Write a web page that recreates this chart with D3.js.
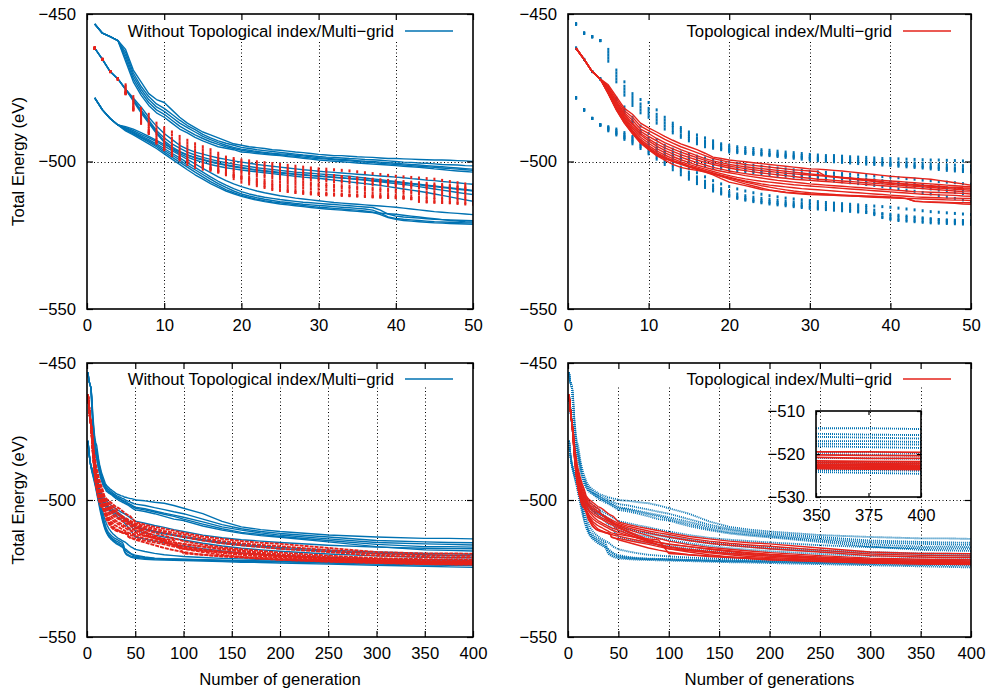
<!DOCTYPE html>
<html>
<head>
<meta charset="utf-8">
<script src="https://cdn.jsdelivr.net/npm/d3@7"></script>
<style>
  body { margin: 0; background: #fff; }
  svg { display: block; }
  text { font-family: "Liberation Sans", Arial, Helvetica, sans-serif; font-size: 16.7px; fill: #000; }
</style>
</head>
<body>
<svg id="chart" width="987" height="691"></svg>
<script>
// Generations at which the best total energy (eV) of each run is recorded.
const earlyGenerations = [1,2,3,4,5,6,7,8,9,10,11,12,13,14,15,16,17,18,19,20,
  21,22,23,24,25,26,27,28,29,30,31,32,33,34,35,36,37,38,39,40,
  41,42,43,44,45,46,47,48,49,50];
const lateGenerations = [60,70,80,90,100,120,140,160,180,200,250,300,350,375,400];

// Runs without topological index / multi-grid (three starting structures).
const blueA1 = [-453.4,-456.5,-457.7,-459.0,-462.0,-469.0,-473.0,-477.0,-479.0,-480.0,
  -482.5,-485.0,-487.0,-488.5,-490.0,-491.0,-492.0,-493.0,-494.0,-494.5,
  -495.0,-495.3,-495.6,-496.0,-496.2,-496.5,-496.8,-497.0,-497.3,-497.6,
  -497.8,-498.0,-498.0,-498.2,-498.4,-498.5,-498.6,-498.8,-499.0,-499.0,
  -499.1,-499.2,-499.3,-499.4,-499.5,-499.5,-499.6,-499.7,-499.8,-500.0,
  -500.3,-500.8,-501.2,-502.0,-503.0,-505.0,-507.8,-509.8,-510.8,-511.5,-512.8,-513.5,-514.0,-514.0,-514.2];
const blueA2 = [-453.4,-456.5,-457.7,-459.0,-463.0,-470.0,-474.5,-478.0,-480.5,-482.0,
  -484.0,-486.0,-487.8,-489.2,-490.8,-492.0,-493.0,-493.8,-494.5,-495.2,
  -495.6,-496.0,-496.3,-496.6,-496.9,-497.2,-497.5,-497.8,-498.0,-498.3,
  -498.5,-498.6,-498.8,-499.0,-499.1,-499.3,-499.4,-499.6,-499.8,-500.0,
  -500.2,-500.3,-500.5,-500.6,-500.8,-501.0,-501.1,-501.2,-501.4,-501.5,
  -502.0,-502.8,-503.5,-504.3,-505.0,-507.0,-509.0,-510.5,-511.5,-512.2,-513.5,-514.8,-515.3,-515.5,-515.6];
const blueA3 = [-453.4,-456.5,-457.7,-459.0,-464.0,-471.0,-475.5,-479.0,-481.5,-483.0,
  -485.0,-487.0,-488.5,-490.0,-491.5,-492.6,-493.6,-494.5,-495.2,-495.8,
  -496.2,-496.6,-496.9,-497.2,-497.4,-497.6,-497.9,-498.1,-498.4,-498.7,
  -498.9,-499.1,-499.3,-499.5,-499.7,-499.9,-500.0,-500.2,-500.4,-500.6,
  -500.8,-501.0,-501.2,-501.4,-501.6,-501.8,-502.0,-502.2,-502.4,-502.6,
  -503.2,-504.0,-504.8,-505.5,-506.3,-508.0,-509.8,-511.0,-512.0,-512.8,-514.2,-515.5,-516.0,-516.2,-516.4];
const blueA4 = [-453.4,-456.5,-457.7,-459.0,-465.0,-472.0,-476.5,-480.0,-482.5,-484.0,
  -486.0,-488.0,-489.5,-491.0,-492.2,-493.3,-494.2,-495.0,-495.6,-496.2,
  -496.6,-496.9,-497.2,-497.5,-497.7,-498.0,-498.2,-498.5,-498.8,-499.0,
  -499.2,-499.4,-499.6,-499.8,-500.0,-500.2,-500.4,-500.6,-500.8,-501.0,
  -501.2,-501.4,-501.6,-501.8,-502.0,-502.2,-502.4,-502.6,-502.8,-503.0,
  -503.6,-504.4,-505.2,-506.0,-507.0,-508.8,-510.5,-511.8,-512.6,-513.3,-514.8,-516.2,-517.0,-517.0,-517.2];
const blueA5 = [-453.4,-456.5,-457.7,-459.0,-466.0,-473.0,-477.5,-481.0,-483.5,-485.0,
  -487.0,-489.0,-490.3,-491.8,-493.0,-494.0,-495.0,-495.5,-496.0,-496.8,
  -497.0,-497.3,-497.6,-497.8,-498.0,-498.3,-498.6,-498.9,-499.2,-499.5,
  -499.7,-499.9,-500.1,-500.3,-500.5,-500.7,-500.9,-501.0,-501.2,-501.4,
  -501.6,-501.8,-502.0,-502.2,-502.5,-502.7,-503.0,-503.2,-503.4,-503.6,
  -504.2,-505.0,-506.0,-507.0,-507.5,-509.5,-511.0,-512.2,-513.0,-513.6,-515.3,-517.0,-518.2,-518.4,-518.6];
const blueB1 = [-461.6,-465.4,-469.5,-472.0,-475.5,-478.5,-481.5,-485.0,-488.0,-490.5,
  -492.5,-494.5,-495.8,-496.8,-497.5,-498.2,-498.8,-499.3,-499.8,-500.2,
  -500.6,-501.0,-501.3,-501.6,-501.9,-502.2,-502.5,-502.8,-503.0,-503.3,
  -503.5,-503.7,-503.9,-504.1,-504.3,-504.5,-504.7,-504.9,-505.1,-505.3,
  -505.5,-505.8,-506.0,-506.3,-506.5,-506.8,-507.0,-507.2,-507.5,-507.7,
  -508.5,-509.3,-510.0,-510.8,-511.5,-512.8,-513.8,-514.5,-515.0,-515.5,-516.5,-517.2,-517.6,-517.7,-517.8];
const blueB2 = [-461.6,-465.4,-469.5,-472.0,-475.5,-479.0,-482.5,-486.0,-489.5,-492.0,
  -494.0,-495.5,-496.8,-497.8,-498.6,-499.3,-499.9,-500.4,-500.9,-501.3,
  -501.7,-502.1,-502.4,-502.7,-503.0,-503.3,-503.6,-503.8,-504.0,-504.2,
  -504.4,-504.6,-504.8,-505.0,-505.3,-505.6,-505.9,-506.2,-506.5,-506.8,
  -507.1,-507.4,-507.7,-508.0,-508.3,-508.6,-508.9,-509.2,-509.5,-509.8,
  -510.6,-511.4,-512.0,-512.7,-513.3,-514.5,-515.5,-516.2,-516.8,-517.3,-518.3,-519.0,-519.5,-519.6,-519.8];
const blueB3 = [-461.6,-465.4,-469.5,-472.0,-475.5,-479.0,-483.0,-486.5,-490.0,-493.0,
  -495.0,-496.6,-497.8,-498.8,-499.5,-500.2,-500.8,-501.3,-501.8,-502.2,
  -502.6,-503.0,-503.3,-503.6,-503.9,-504.1,-504.3,-504.5,-504.7,-504.9,
  -505.1,-505.3,-505.5,-505.8,-506.0,-506.3,-506.6,-506.9,-507.2,-507.5,
  -507.8,-508.1,-508.5,-508.9,-509.3,-509.7,-510.1,-510.5,-510.9,-511.2,
  -512.0,-512.8,-513.5,-514.0,-514.6,-515.8,-516.8,-517.6,-518.2,-518.7,-519.7,-520.4,-520.9,-521.0,-521.1];
const blueB4 = [-461.6,-465.4,-469.5,-472.0,-475.5,-479.5,-483.5,-487.0,-490.5,-493.5,
  -495.8,-497.3,-498.5,-499.5,-500.3,-501.0,-501.6,-502.1,-502.5,-502.9,
  -503.2,-503.5,-503.8,-504.1,-504.4,-504.7,-505.0,-505.3,-505.5,-505.7,
  -506.0,-506.3,-506.6,-506.9,-507.2,-507.5,-507.8,-508.1,-508.5,-508.9,
  -509.3,-509.7,-510.1,-510.5,-511.0,-511.5,-512.0,-512.5,-513.0,-513.5,
  -514.3,-515.0,-515.7,-516.3,-516.8,-517.8,-518.6,-519.3,-519.8,-520.2,-521.0,-521.5,-521.8,-521.9,-522.0];
const blueC1 = [-478.4,-482.5,-485.4,-487.6,-488.2,-489.0,-490.2,-491.5,-492.8,-494.2,
  -495.5,-496.8,-497.8,-498.6,-499.3,-500.0,-500.6,-501.1,-501.6,-502.0,
  -502.4,-502.8,-503.1,-503.4,-503.7,-504.0,-504.3,-504.6,-504.8,-505.0,
  -505.2,-505.4,-505.6,-505.8,-506.0,-506.2,-506.4,-506.6,-506.8,-507.0,
  -507.3,-507.6,-507.9,-508.2,-508.5,-508.8,-509.1,-509.4,-509.7,-510.0,
  -510.8,-511.6,-512.3,-513.0,-513.6,-514.8,-515.8,-516.6,-517.2,-517.8,-518.8,-519.5,-520.0,-520.2,-520.4];
const blueC2 = [-478.4,-482.5,-485.4,-487.6,-488.5,-489.5,-490.8,-492.0,-493.3,-494.8,
  -496.3,-497.8,-499.3,-500.8,-502.3,-503.8,-505.2,-506.5,-507.6,-508.5,
  -509.3,-510.0,-510.6,-511.1,-511.6,-512.0,-512.4,-512.7,-513.0,-513.3,
  -513.6,-513.9,-514.1,-514.3,-514.5,-514.7,-514.9,-515.1,-515.3,-515.5,
  -515.8,-516.1,-516.4,-516.7,-517.0,-517.2,-517.4,-517.6,-517.8,-518.0,
  -518.8,-519.5,-520.0,-520.3,-520.6,-521.0,-521.3,-521.5,-521.7,-521.8,-522.0,-522.2,-522.3,-522.4,-522.5];
const blueC3 = [-478.4,-482.5,-485.4,-487.6,-488.7,-490.0,-491.3,-492.6,-494.0,-495.6,
  -497.2,-498.8,-500.4,-502.0,-503.6,-505.2,-506.7,-508.0,-509.2,-510.2,
  -511.0,-511.6,-512.1,-512.5,-512.9,-513.2,-513.5,-513.8,-514.0,-514.2,
  -514.4,-514.6,-514.8,-515.0,-515.2,-515.4,-515.6,-516.5,-517.8,-518.5,
  -518.8,-519.0,-519.2,-519.4,-519.6,-519.7,-519.8,-519.9,-520.0,-520.1,
  -520.8,-521.2,-521.4,-521.5,-521.6,-521.8,-522.0,-522.1,-522.2,-522.3,-522.6,-522.8,-523.0,-523.0,-523.1];
const blueC4 = [-478.4,-482.5,-485.4,-487.6,-489.0,-490.3,-491.7,-493.0,-494.5,-496.2,
  -497.8,-499.5,-501.2,-502.8,-504.4,-506.0,-507.5,-508.8,-510.0,-511.0,
  -511.7,-512.3,-512.8,-513.2,-513.6,-513.9,-514.2,-514.5,-514.7,-514.9,
  -515.1,-515.3,-515.5,-515.7,-515.9,-516.1,-516.5,-517.5,-518.8,-519.3,
  -519.6,-519.8,-520.0,-520.2,-520.4,-520.5,-520.6,-520.7,-520.8,-520.9,
  -521.3,-521.5,-521.6,-521.7,-521.8,-522.0,-522.2,-522.4,-522.5,-522.6,-523.0,-523.4,-523.7,-523.8,-523.9];
const blueC5 = [-478.4,-482.5,-485.4,-487.6,-489.3,-490.6,-492.0,-493.4,-495.0,-496.8,
  -498.5,-500.2,-501.9,-503.6,-505.2,-506.8,-508.2,-509.5,-510.6,-511.5,
  -512.2,-512.8,-513.3,-513.7,-514.0,-514.3,-514.6,-514.9,-515.2,-515.5,
  -515.7,-515.9,-516.1,-516.3,-516.5,-516.8,-517.2,-518.0,-519.0,-519.6,
  -520.0,-520.2,-520.4,-520.6,-520.8,-520.9,-521.0,-521.1,-521.2,-521.3,
  -521.6,-521.8,-521.9,-522.0,-522.1,-522.3,-522.5,-522.7,-522.8,-523.0,-523.4,-523.8,-524.2,-524.4,-524.6];
const blueC6 = [-478.4,-482.5,-485.4,-487.6,-489.6,-491.0,-492.5,-494.0,-495.6,-497.4,
  -499.2,-501.0,-502.8,-504.5,-506.0,-507.5,-508.8,-510.0,-511.0,-511.8,
  -512.5,-513.1,-513.6,-514.0,-514.4,-514.7,-515.0,-515.3,-515.6,-515.9,
  -516.1,-516.3,-516.5,-516.7,-516.9,-517.1,-517.3,-517.5,-517.7,-517.9,
  -518.2,-518.5,-518.8,-519.1,-519.4,-519.7,-520.0,-520.2,-520.4,-520.5,
  -521.0,-521.3,-521.5,-521.6,-521.7,-521.9,-522.1,-522.2,-522.3,-522.4,-522.8,-523.1,-523.3,-523.4,-523.5];

// Runs with topological index / multi-grid.
const redR1 = [-461.6,-465.4,-469.5,-472.0,-474.0,-478.0,-482.0,-484.0,-487.0,-488.6,
  -490.0,-491.5,-492.8,-494.0,-495.0,-496.0,-497.2,-498.5,-499.0,-499.5,
  -499.8,-500.1,-500.4,-500.7,-501.0,-501.3,-501.6,-501.9,-502.2,-502.5,
  -502.6,-502.8,-503.0,-503.2,-503.5,-503.8,-504.1,-504.4,-504.7,-505.0,
  -505.2,-505.4,-505.6,-505.8,-506.0,-506.4,-506.8,-507.2,-507.6,-508.0,
  -509.0,-509.8,-510.5,-511.2,-512.0,-513.3,-514.2,-515.0,-515.6,-516.0,-517.5,-519.0,-519.5,-519.5,-519.6];
const redR2 = [-461.6,-465.4,-469.5,-472.0,-474.5,-478.8,-482.8,-485.0,-488.0,-489.5,
  -491.0,-492.5,-493.8,-495.0,-496.0,-497.0,-498.0,-499.0,-499.6,-500.2,
  -500.6,-501.0,-501.3,-501.6,-501.9,-502.2,-502.5,-502.8,-503.0,-503.2,
  -503.4,-505.0,-505.2,-505.4,-505.6,-505.8,-506.0,-506.2,-506.4,-506.6,
  -506.8,-507.0,-507.2,-507.4,-507.6,-507.8,-508.0,-508.2,-508.4,-508.5,
  -509.6,-510.5,-511.3,-512.0,-512.6,-514.0,-515.0,-515.8,-516.4,-516.9,-518.3,-519.7,-520.2,-520.3,-520.4];
const redR3 = [-461.6,-465.4,-469.5,-472.0,-475.0,-479.5,-483.5,-486.0,-489.0,-490.5,
  -492.2,-493.6,-494.8,-496.0,-497.0,-498.0,-499.0,-499.8,-500.4,-501.0,
  -501.4,-501.8,-502.1,-502.4,-502.7,-503.0,-503.3,-503.6,-503.9,-504.2,
  -504.5,-504.8,-505.1,-505.4,-505.7,-506.0,-506.3,-506.6,-506.9,-507.2,
  -507.4,-507.6,-507.8,-508.0,-508.2,-508.4,-508.6,-508.7,-508.9,-509.0,
  -510.2,-511.2,-512.0,-512.8,-513.5,-514.8,-515.8,-516.5,-517.2,-517.8,-519.0,-520.3,-520.8,-521.0,-521.0];
const redR4 = [-461.6,-465.4,-469.5,-472.0,-475.5,-480.0,-484.0,-487.0,-489.8,-491.5,
  -493.0,-494.5,-495.7,-496.8,-497.8,-498.7,-499.6,-500.4,-501.0,-501.6,
  -502.0,-502.4,-502.8,-503.1,-503.4,-503.7,-504.0,-504.2,-504.4,-504.6,
  -504.8,-505.0,-505.3,-505.6,-505.9,-506.2,-506.5,-506.8,-507.1,-507.4,
  -507.6,-507.8,-508.0,-508.2,-508.4,-508.6,-508.8,-509.0,-509.2,-509.3,
  -510.8,-512.0,-513.0,-514.0,-515.0,-516.3,-517.3,-518.0,-518.6,-519.2,-520.3,-521.2,-521.6,-521.7,-521.8];
const redR5 = [-461.6,-465.4,-469.5,-472.0,-476.0,-480.5,-484.5,-487.5,-490.5,-492.3,
  -494.0,-495.4,-496.6,-497.7,-498.6,-499.5,-500.3,-501.0,-501.6,-502.2,
  -502.7,-503.1,-503.5,-503.9,-504.2,-504.5,-504.8,-505.1,-505.4,-505.7,
  -506.0,-506.2,-506.4,-506.6,-506.8,-507.0,-507.2,-507.4,-507.6,-507.8,
  -508.0,-508.2,-508.4,-508.6,-508.8,-509.0,-509.2,-509.4,-509.6,-509.8,
  -511.5,-513.0,-514.5,-515.5,-516.2,-517.0,-517.8,-518.5,-519.2,-519.8,-520.8,-521.6,-522.0,-522.1,-522.2];
const redR6 = [-461.6,-465.4,-469.5,-472.0,-476.3,-481.0,-485.0,-488.2,-491.0,-493.0,
  -494.8,-496.2,-497.4,-498.5,-499.5,-500.4,-501.2,-502.0,-502.6,-503.2,
  -503.7,-504.1,-504.5,-504.8,-505.1,-505.4,-505.7,-506.0,-506.2,-506.4,
  -506.6,-506.8,-507.0,-507.2,-507.4,-507.6,-507.8,-508.0,-508.2,-508.4,
  -508.6,-508.8,-509.0,-509.2,-509.4,-509.6,-509.8,-510.0,-510.2,-510.3,
  -511.8,-513.5,-515.0,-516.5,-517.8,-518.5,-519.0,-519.5,-520.0,-520.5,-521.3,-522.0,-522.4,-522.5,-522.6];
const redR7 = [-461.6,-465.4,-469.5,-472.0,-476.6,-481.5,-485.5,-488.8,-491.8,-493.8,
  -495.6,-497.0,-498.3,-499.4,-500.3,-501.2,-502.0,-502.7,-503.3,-503.8,
  -504.3,-504.8,-505.2,-505.6,-506.0,-506.4,-506.7,-507.0,-507.3,-507.6,
  -507.8,-508.0,-508.2,-508.4,-508.6,-508.8,-509.0,-509.2,-509.4,-509.6,
  -509.8,-510.0,-510.2,-510.3,-510.4,-510.5,-510.6,-510.7,-510.8,-511.0,
  -512.5,-514.0,-515.3,-516.3,-517.0,-518.0,-518.8,-519.5,-520.0,-520.5,-521.5,-522.3,-522.7,-522.8,-522.9];
const redR8 = [-461.6,-465.4,-469.5,-472.0,-476.8,-482.0,-486.0,-489.5,-492.5,-494.6,
  -496.4,-497.8,-499.0,-500.1,-501.0,-501.8,-502.6,-503.4,-504.1,-504.8,
  -505.4,-505.9,-506.3,-506.7,-507.0,-507.3,-507.6,-507.9,-508.1,-508.3,
  -508.5,-508.7,-508.9,-509.1,-509.3,-509.5,-509.7,-509.9,-510.1,-510.3,
  -510.5,-510.7,-510.9,-511.1,-511.2,-511.3,-511.4,-511.5,-511.7,-511.8,
  -513.0,-514.0,-514.8,-515.5,-516.0,-517.0,-518.0,-518.8,-519.5,-520.0,-521.2,-522.0,-522.5,-522.6,-522.7];
const redR9 = [-461.6,-465.4,-469.5,-472.0,-477.0,-482.3,-486.5,-490.0,-493.0,-495.2,
  -497.0,-498.4,-499.6,-500.6,-501.5,-502.3,-503.1,-503.9,-504.6,-505.3,
  -506.0,-506.6,-507.1,-507.6,-508.0,-508.3,-508.6,-508.9,-509.2,-509.4,
  -509.6,-509.8,-510.0,-510.2,-510.4,-510.6,-510.8,-511.0,-511.2,-511.4,
  -511.6,-511.8,-512.0,-512.1,-512.2,-512.3,-512.4,-512.4,-512.5,-512.5,
  -513.2,-513.8,-514.2,-514.6,-519.5,-520.0,-520.4,-520.8,-521.1,-521.4,-522.0,-522.6,-523.0,-523.1,-523.2];
const redR10 = [-461.6,-465.4,-469.5,-472.0,-477.0,-482.5,-487.0,-490.5,-493.5,-495.6,
  -497.4,-498.8,-500.0,-501.0,-501.9,-502.7,-503.5,-504.3,-505.0,-505.6,
  -506.3,-507.0,-507.6,-508.2,-508.7,-509.2,-509.6,-510.0,-510.3,-510.6,
  -510.8,-511.0,-511.2,-511.4,-511.6,-511.8,-512.0,-512.1,-512.2,-512.3,
  -512.4,-512.5,-512.6,-512.7,-512.8,-512.9,-513.0,-513.1,-513.1,-513.2,
  -514.0,-514.8,-515.6,-516.4,-517.2,-518.4,-519.3,-520.0,-520.6,-521.0,-521.8,-522.6,-523.1,-523.3,-523.4];
const redR11 = [-461.6,-465.4,-469.5,-472.0,-476.5,-481.8,-486.0,-489.8,-493.2,-495.8,
  -497.8,-499.0,-500.0,-500.8,-501.6,-502.4,-503.2,-504.0,-505.0,-506.0,
  -506.8,-507.6,-508.3,-509.0,-509.6,-510.1,-510.5,-510.8,-511.0,-511.2,
  -511.3,-511.4,-511.5,-511.6,-511.7,-511.8,-511.9,-512.0,-512.1,-512.2,
  -512.4,-512.6,-513.4,-513.6,-513.7,-513.8,-513.9,-514.0,-514.0,-514.0,
  -514.8,-515.5,-516.2,-517.0,-517.8,-519.0,-520.0,-520.8,-521.4,-521.8,-522.4,-522.9,-523.3,-523.4,-523.5];
const redR12 = [-461.6,-465.4,-469.5,-472.0,-477.0,-482.5,-487.0,-490.5,-493.8,-496.0,
  -498.0,-499.5,-501.0,-502.0,-502.6,-503.0,-503.6,-504.5,-505.8,-507.0,
  -507.6,-508.2,-508.8,-509.5,-509.8,-510.1,-510.4,-510.6,-510.8,-511.0,
  -511.1,-511.2,-511.3,-511.4,-511.5,-511.6,-511.7,-511.8,-511.9,-512.0,
  -512.2,-512.6,-513.5,-513.7,-513.8,-513.9,-514.0,-514.2,-514.4,-514.5,
  -515.5,-516.5,-517.5,-518.3,-519.0,-520.0,-520.6,-521.0,-521.4,-521.8,-522.5,-523.0,-523.4,-523.5,-523.6];

const legendWithout = "Without Topological index/Multi\u2212grid";
const legendWith = "Topological index/Multi\u2212grid";
const energyTicks = [-450, -500, -550];
const insetEnergyTicks = [-510, -520, -530];
const shortGenTicks = [0, 10, 20, 30, 40, 50];
const longGenTicks = [0, 50, 100, 150, 200, 250, 300, 350, 400];
const insetGenTicks = [350, 375, 400];

const BLUE = "#0072b2";
const RED = "#e5231b";

const generations = earlyGenerations.concat(lateGenerations);
const blueRuns = [blueA1, blueA2, blueA3, blueA4, blueA5, blueB1, blueB2, blueB3, blueB4,
  blueC1, blueC2, blueC3, blueC4, blueC5, blueC6];
const redRuns = [redR1, redR2, redR3, redR4, redR5, redR6, redR7, redR8, redR9, redR10, redR11, redR12];

function points(run, gMin, gMax) {
  return run.map((v, i) => ({ g: generations[i], v }))
            .filter(d => d.g >= gMin && d.g <= gMax);
}

const svg = d3.select("#chart");
const defs = svg.append("defs");

// Panel frames (pixel boxes) and how each data set is drawn in them.
const panels = [
  { x0: 87,  x1: 473, y0: 14,  y1: 309, xMax: 50,  ticks: shortGenTicks, blue: "line", red: "dots",
    legend: legendWithout, legendColor: BLUE, keyH: 25, yTitle: "Total Energy (eV)" },
  { x0: 568, x1: 971, y0: 14,  y1: 309, xMax: 50,  ticks: shortGenTicks, blue: "dots", red: "line",
    legend: legendWith, legendColor: RED, keyH: 25 },
  { x0: 87,  x1: 473, y0: 363, y1: 637, xMax: 400, ticks: longGenTicks, blue: "line", red: "dashed",
    legend: legendWithout, legendColor: BLUE, keyH: 22, yTitle: "Total Energy (eV)", xTitle: "Number of generation" },
  { x0: 568, x1: 971, y0: 363, y1: 637, xMax: 400, ticks: longGenTicks, blue: "dotted", red: "line",
    legend: legendWith, legendColor: RED, keyH: 22, xTitle: "Number of generations", inset: true }
];

function drawRuns(layer, runs, style, color, x, y, gMin, gMax) {
  const line = d3.line().x(d => x(d.g)).y(d => y(d.v));
  if (style === "dots") {
    runs.forEach(run => {
      layer.append("g").selectAll("rect")
        .data(points(run, gMin, gMax))
        .join("rect")
        .attr("x", d => x(d.g) - 1)
        .attr("y", d => y(d.v) - 1.5)
        .attr("width", 2)
        .attr("height", 3)
        .attr("fill", color);
    });
    return;
  }
  const widths = { line: 1.4, dashed: 1.9, dotted: 1.9 };
  const dashes = { line: null, dashed: "4,1", dotted: "1,1" };
  layer.append("g").selectAll("path")
    .data(runs.map(r => points(r, gMin, gMax)))
    .join("path")
    .attr("d", line)
    .attr("fill", "none")
    .attr("stroke", color)
    .attr("stroke-width", widths[style])
    .attr("stroke-dasharray", dashes[style])
    .attr("stroke-linejoin", "round");
}

function styleAxis(g) {
  g.select(".domain").remove();
  g.selectAll(".tick line").attr("stroke", "#000").attr("stroke-width", 1.2);
  g.selectAll(".tick text").attr("fill", "#000")
    .style("font-family", '"Liberation Sans", Arial, sans-serif').style("font-size", "16.7px");
}

function drawFrame(g, box, x, y, xTicks, yTicks, tick, pad) {
  const fmt = d3.format("d");
  g.append("g").attr("transform", `translate(0,${box.y1})`)
    .call(d3.axisBottom(x).tickValues(xTicks).tickSize(-tick).tickPadding(pad.x).tickFormat(fmt))
    .call(styleAxis);
  g.append("g").attr("transform", `translate(0,${box.y0})`)
    .call(d3.axisTop(x).tickValues(xTicks).tickSize(-tick).tickFormat(""))
    .call(styleAxis);
  g.append("g").attr("transform", `translate(${box.x0},0)`)
    .call(d3.axisLeft(y).tickValues(yTicks).tickSize(-tick).tickPadding(pad.y).tickFormat(fmt))
    .call(styleAxis);
  g.append("g").attr("transform", `translate(${box.x1},0)`)
    .call(d3.axisRight(y).tickValues(yTicks).tickSize(-tick).tickFormat(""))
    .call(styleAxis);
  g.append("rect")
    .attr("x", box.x0).attr("y", box.y0)
    .attr("width", box.x1 - box.x0).attr("height", box.y1 - box.y0)
    .attr("fill", "none").attr("stroke", "#000").attr("stroke-width", 1.6);
}

panels.forEach((p, idx) => {
  const x = d3.scaleLinear().domain([0, p.xMax]).range([p.x0, p.x1]);
  const y = d3.scaleLinear().domain([-550, -450]).range([p.y1, p.y0]);
  const g = svg.append("g");

  const clipId = "plot-clip-" + idx;
  defs.append("clipPath").attr("id", clipId).append("rect")
    .attr("x", p.x0).attr("y", p.y0).attr("width", p.x1 - p.x0).attr("height", p.y1 - p.y0);

  // dotted grid
  const grid = g.append("g").attr("stroke", "#000").attr("stroke-width", 1).attr("stroke-dasharray", "1,2.5");
  grid.selectAll("line.v").data(p.ticks.filter(t => t > 0 && t < p.xMax)).join("line")
    .attr("class", "v")
    .attr("x1", d => Math.round(x(d)) + 0.5).attr("x2", d => Math.round(x(d)) + 0.5)
    .attr("y1", p.y0).attr("y2", p.y1);
  grid.append("line")
    .attr("x1", p.x0).attr("x2", p.x1)
    .attr("y1", Math.round(y(-500)) + 0.5).attr("y2", Math.round(y(-500)) + 0.5);

  // opaque key area
  g.append("rect").attr("x", p.x0 + 1).attr("y", p.y0 + 1)
    .attr("width", p.x1 - p.x0 - 2).attr("height", p.keyH).attr("fill", "#fff");

  const plot = g.append("g").attr("clip-path", `url(#${clipId})`);
  drawRuns(plot, blueRuns, p.blue, BLUE, x, y, 0, p.xMax);
  drawRuns(plot, redRuns, p.red, RED, x, y, 0, p.xMax);

  drawFrame(g, p, x, y, p.ticks, energyTicks, 6, { x: 10.5, y: 11 });

  // key
  const ky = p.y0 + (p.keyH === 25 ? 17 : 16);
  g.append("text").attr("x", p.x1 - 79).attr("y", ky).attr("dy", "0.35em")
    .attr("text-anchor", "end").text(p.legend);
  g.append("line").attr("x1", p.x1 - 68).attr("x2", p.x1 - 20)
    .attr("y1", ky).attr("y2", ky).attr("stroke", p.legendColor).attr("stroke-width", 1.4);

  if (p.yTitle) {
    g.append("text")
      .attr("transform", `translate(18,${(p.y0 + p.y1) / 2}) rotate(-90)`)
      .attr("dy", "0.35em").attr("text-anchor", "middle").text(p.yTitle);
  }
  if (p.xTitle) {
    g.append("text").attr("x", (p.x0 + p.x1) / 2).attr("y", 679).attr("dy", "0.35em")
      .attr("text-anchor", "middle").text(p.xTitle);
  }

  if (p.inset) {
    const box = { x0: 816, x1: 921, y0: 411, y1: 497 };
    const ix = d3.scaleLinear().domain([350, 400]).range([box.x0, box.x1]);
    const iy = d3.scaleLinear().domain([-530, -510]).range([box.y1, box.y0]);
    const insetClip = "inset-clip";
    defs.append("clipPath").attr("id", insetClip).append("rect")
      .attr("x", box.x0).attr("y", box.y0).attr("width", box.x1 - box.x0).attr("height", box.y1 - box.y0);
    const ig = g.append("g");
    const il = ig.append("g").attr("clip-path", `url(#${insetClip})`);
    drawRuns(il, blueRuns, "dotted", BLUE, ix, iy, 350, 400);
    drawRuns(il, redRuns, "line", RED, ix, iy, 350, 400);
    il.selectAll("path").filter(function () { return d3.select(this).attr("stroke") === RED; })
      .attr("stroke-width", 1.8);
    drawFrame(ig, box, ix, iy, insetGenTicks, insetEnergyTicks, 4, { x: 12, y: 11 });
  }
});
</script>
</body>
</html>
